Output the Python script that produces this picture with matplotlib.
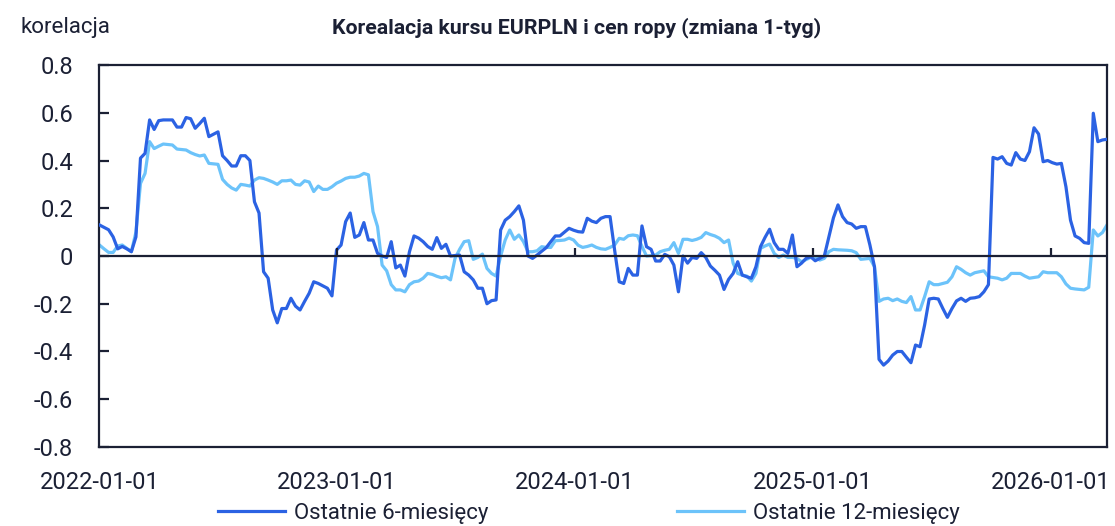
import numpy as np
import pandas as pd
import matplotlib
matplotlib.use('Agg')
import matplotlib.pyplot as plt
import matplotlib.dates as mdates
from matplotlib.ticker import FixedLocator, FuncFormatter

plt.rcParams['font.family'] = ['Roboto', 'DejaVu Sans']
plt.rcParams['axes.unicode_minus'] = False

# weekly observations starting at the first week of 2022
START = '2022-01-01'

corr_6m = [
    0.13, 0.12, 0.11, 0.08, 0.03, 0.04, 0.03, 0.018, 0.08, 0.41,
    0.43, 0.57, 0.53, 0.567, 0.57, 0.57, 0.57, 0.54, 0.54, 0.58,
    0.575, 0.535, 0.555, 0.577, 0.50, 0.51, 0.52, 0.42, 0.40, 0.377,
    0.377, 0.42, 0.42, 0.40, 0.227, 0.18, -0.066, -0.093, -0.226, -0.28,
    -0.22, -0.22, -0.177, -0.21, -0.226, -0.19, -0.156, -0.108, -0.115, -0.125,
    -0.135, -0.167, 0.025, 0.046, 0.144, 0.18, 0.078, 0.088, 0.14, 0.067,
    0.067, 0.011, 0.0, -0.006, 0.06, -0.05, -0.038, -0.084, 0.018, 0.084,
    0.075, 0.06, 0.04, 0.028, 0.077, 0.032, 0.049, 0.0, 0.002, 0.004,
    -0.066, -0.08, -0.10, -0.135, -0.135, -0.2, -0.187, -0.184, 0.109, 0.15,
    0.165, 0.186, 0.21, 0.15, 0.0, -0.01, 0.004, 0.02, 0.035, 0.06,
    0.084, 0.084, 0.10, 0.116, 0.108, 0.102, 0.10, 0.158, 0.146, 0.14,
    0.158, 0.165, 0.165, 0.025, -0.108, -0.115, -0.052, -0.08, -0.08, 0.126,
    0.039, 0.028, -0.021, -0.021, 0.007, -0.003, -0.038, -0.15, 0.0, -0.03,
    -0.006, -0.01, 0.014, -0.006, -0.042, -0.06, -0.08, -0.14, -0.098, -0.073,
    -0.024, -0.08, -0.087, -0.093, -0.045, 0.039, 0.078, 0.112, 0.056, 0.028,
    0.028, 0.011, 0.088, -0.045, -0.03, -0.01, -0.003, -0.02, -0.01, 0.0,
    0.08, 0.16, 0.214, 0.165, 0.14, 0.134, 0.116, 0.123, 0.123, 0.046,
    -0.045, -0.433, -0.457, -0.44, -0.415, -0.40, -0.40, -0.424, -0.447, -0.373,
    -0.38, -0.289, -0.18, -0.177, -0.18, -0.22, -0.257, -0.22, -0.188, -0.177,
    -0.19, -0.177, -0.175, -0.17, -0.15, -0.12, 0.413, 0.406, 0.416, 0.388,
    0.381, 0.433, 0.406, 0.40, 0.437, 0.537, 0.511, 0.395, 0.40, 0.391,
    0.385, 0.388, 0.29, 0.15, 0.084, 0.074, 0.056, 0.053, 0.598, 0.479,
    0.486, 0.489,
]

corr_12m = [
    0.046, 0.03, 0.015, 0.015, 0.042, 0.046, 0.032, 0.018, 0.10, 0.304,
    0.346, 0.479, 0.45, 0.46, 0.469, 0.467, 0.465, 0.448, 0.446, 0.444,
    0.433, 0.425, 0.419, 0.423, 0.388, 0.386, 0.384, 0.321, 0.30, 0.285,
    0.276, 0.30, 0.297, 0.293, 0.318, 0.328, 0.325, 0.318, 0.31, 0.30,
    0.315, 0.315, 0.318, 0.30, 0.297, 0.315, 0.31, 0.27, 0.293, 0.279,
    0.279, 0.29, 0.305, 0.314, 0.325, 0.33, 0.33, 0.335, 0.346, 0.34,
    0.186, 0.123, -0.038, -0.062, -0.12, -0.142, -0.142, -0.15, -0.12, -0.108,
    -0.105, -0.093, -0.073, -0.077, -0.085, -0.091, -0.087, -0.10, -0.01, 0.028,
    0.06, 0.064, -0.014, -0.006, 0.008, -0.052, -0.073, -0.084, 0.0, 0.067,
    0.109, 0.07, 0.088, 0.06, 0.018, 0.018, 0.022, 0.039, 0.036, 0.036,
    0.064, 0.065, 0.067, 0.075, 0.067, 0.045, 0.036, 0.04, 0.046, 0.036,
    0.03, 0.028, 0.036, 0.046, 0.074, 0.07, 0.085, 0.088, 0.085, 0.04,
    0.0, 0.002, 0.004, 0.018, 0.024, 0.028, 0.056, 0.011, 0.07, 0.07,
    0.065, 0.07, 0.078, 0.098, 0.09, 0.084, 0.074, 0.056, 0.067, -0.03,
    -0.073, -0.08, -0.084, -0.105, -0.073, 0.032, 0.042, 0.05, 0.011, -0.006,
    0.004, -0.006, -0.006, -0.01, -0.024, -0.015, -0.006, -0.003, -0.017, -0.01,
    0.018, 0.028, 0.026, 0.025, 0.024, 0.022, 0.014, -0.014, -0.012, -0.01,
    -0.045, -0.19, -0.18, -0.177, -0.187, -0.18, -0.19, -0.195, -0.17, -0.226,
    -0.226, -0.17, -0.108, -0.12, -0.12, -0.115, -0.11, -0.087, -0.045, -0.056,
    -0.07, -0.08, -0.07, -0.066, -0.062, -0.087, -0.09, -0.093, -0.10, -0.093,
    -0.073, -0.073, -0.073, -0.084, -0.093, -0.09, -0.087, -0.066, -0.07, -0.07,
    -0.07, -0.087, -0.117, -0.135, -0.138, -0.14, -0.142, -0.131, 0.109, 0.084,
    0.098, 0.13,
]

year_ticks = ['2022-01-01', '2023-01-01', '2024-01-01', '2025-01-01', '2026-01-01']
y_ticks = [-0.8, -0.6, -0.4, -0.2, 0.0, 0.2, 0.4, 0.6, 0.8]

labels = ['Ostatnie 6-miesięcy', 'Ostatnie 12-miesięcy']
title = 'Korealacja kursu EURPLN i cen ropy (zmiana 1-tyg)'

DARK = '#2b62e3'
LIGHT = '#6cc3fa'
INK = '#1b2034'

dates = pd.date_range(START, periods=len(corr_6m), freq='7D')
ticks = pd.to_datetime(year_ticks)

fig = plt.figure(figsize=(11.15, 5.26), dpi=100)
ax = fig.add_axes([0.0892, 0.1502, 0.9036, 0.7262])

ax.plot(dates, corr_6m, color=DARK, lw=2.3, label=labels[0], zorder=3)
ax.plot(dates, corr_12m, color=LIGHT, lw=2.3, label=labels[1], zorder=2)

# zero axis with small year ticks pointing up
ax.axhline(0, color=INK, lw=1.6, zorder=4)
ax.vlines(ticks[1:], 0, 0.035, color=INK, lw=1.6, zorder=4)

ax.set_xlim(dates[0], dates[-1])
ax.set_ylim(-0.8, 0.8)

ax.xaxis.set_major_locator(FixedLocator(mdates.date2num(ticks)))
ax.set_xticklabels(year_ticks)
ax.yaxis.set_major_locator(FixedLocator(y_ticks))
ax.yaxis.set_major_formatter(FuncFormatter(lambda v, p: '0' if abs(v) < 1e-9 else f'{v:.1f}'))

ax.tick_params(axis='x', length=0, pad=17, labelsize=17, labelcolor=INK)
ax.tick_params(axis='y', direction='in', length=7, width=1.6, color=INK,
               pad=19, labelsize=17, labelcolor=INK)
for s in ax.spines.values():
    s.set_color(INK)
    s.set_linewidth(1.6)

fig.text(20 / 1115, 1 - 27 / 526, 'korelacja', fontsize=16, color=INK,
         ha='left', va='center')
fig.text(577 / 1115, 1 - 28 / 526, title, fontsize=15.3, fontweight='bold',
         color=INK, ha='center', va='center')

ax.legend(loc='center', bbox_to_anchor=(589 / 1115, 1 - 513 / 526),
          bbox_transform=fig.transFigure, ncol=2, frameon=False,
          fontsize=16, handlelength=3.0, columnspacing=8.5, handletextpad=0.4,
          labelcolor=INK, borderaxespad=0)

fig.savefig('out.png', dpi=100)
